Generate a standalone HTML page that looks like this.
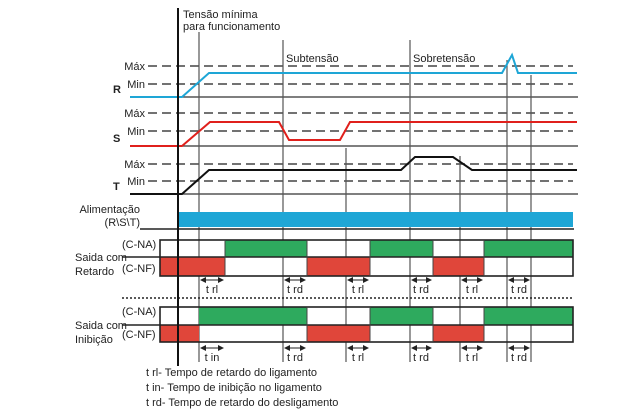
<!DOCTYPE html>
<html><head><meta charset="utf-8"><style>
html,body{margin:0;padding:0;background:#fff;width:640px;height:413px;overflow:hidden}
svg{display:block}
text{font-family:"Liberation Sans",Arial,sans-serif;font-size:11px;fill:#222}
</style></head><body>
<svg width="640" height="413" viewBox="0 0 640 413" xmlns="http://www.w3.org/2000/svg">
<defs>
<marker id="a" markerWidth="6" markerHeight="6" refX="5" refY="3" orient="auto-start-reverse"><path d="M0,0 L6,3 L0,6 z" fill="#222"/></marker>
</defs>
<!-- dashed levels -->
<g stroke="#444" stroke-width="1.6" stroke-dasharray="9,5">
<line x1="148" y1="66" x2="573" y2="66"/><line x1="148" y1="84" x2="573" y2="84"/>
<line x1="148" y1="113" x2="573" y2="113"/><line x1="148" y1="131" x2="573" y2="131"/>
<line x1="148" y1="164" x2="573" y2="164"/><line x1="148" y1="181" x2="573" y2="181"/>
</g>
<g stroke="#333" stroke-width="1.2">
<line x1="178" y1="97" x2="578" y2="97"/><line x1="178" y1="146" x2="578" y2="146"/><line x1="178" y1="194" x2="578" y2="194"/>
</g>
<!-- vertical guides -->
<g stroke="#555" stroke-width="1.2">
<line x1="199" y1="32" x2="199" y2="362"/>
<line x1="283" y1="40" x2="283" y2="362"/>
<line x1="346" y1="148" x2="346" y2="362"/>
<line x1="410" y1="40" x2="410" y2="362"/>
<line x1="460" y1="156" x2="460" y2="362"/>
<line x1="507" y1="60" x2="507" y2="362"/>
<line x1="531" y1="75" x2="531" y2="362"/>
</g>
<!-- signals -->
<polyline fill="none" stroke="#1ea6d6" stroke-width="2" points="130,97 182,97 209,73 502,73 512,55 518,73 577,73"/>
<polyline fill="none" stroke="#e0201c" stroke-width="2" points="130,146 182,146 210,122 279,122 289,140 340,140 350,122 577,122"/>
<polyline fill="none" stroke="#111" stroke-width="2" points="130,194 182,194 209,170 401,170 415,157 453,157 472,170 577,170"/>
<!-- Alimentação -->
<rect x="178" y="212" width="395" height="15" fill="#1ea6d6"/>
<line x1="140" y1="229" x2="574" y2="229" stroke="#222" stroke-width="1.5"/>
<!-- Retardo -->
<g stroke="none">
<rect x="160" y="257" width="65" height="19" fill="#e0463a"/>
<rect x="225" y="240" width="82" height="17" fill="#2eaa5e"/>
<rect x="307" y="257" width="63" height="19" fill="#e0463a"/>
<rect x="370" y="240" width="63" height="17" fill="#2eaa5e"/>
<rect x="433" y="257" width="51" height="19" fill="#e0463a"/>
<rect x="484" y="240" width="89" height="17" fill="#2eaa5e"/>
<rect x="160" y="325" width="39" height="17" fill="#e0463a"/>
<rect x="199" y="307" width="108" height="18" fill="#2eaa5e"/>
<rect x="307" y="325" width="63" height="17" fill="#e0463a"/>
<rect x="370" y="307" width="63" height="18" fill="#2eaa5e"/>
<rect x="433" y="325" width="51" height="17" fill="#e0463a"/>
<rect x="484" y="307" width="89" height="18" fill="#2eaa5e"/>
</g>
<g fill="none" stroke="#222" stroke-width="1.6">
<rect x="160" y="240" width="413" height="36"/>
<line x1="122" y1="257" x2="573" y2="257"/>
<rect x="160" y="307" width="413" height="35"/>
<line x1="122" y1="325" x2="573" y2="325"/>
</g>
<g stroke="#444" stroke-width="1">
<line x1="225" y1="240" x2="225" y2="276"/><line x1="307" y1="240" x2="307" y2="276"/><line x1="370" y1="240" x2="370" y2="276"/><line x1="433" y1="240" x2="433" y2="276"/><line x1="484" y1="240" x2="484" y2="276"/>
<line x1="307" y1="307" x2="307" y2="342"/><line x1="370" y1="307" x2="370" y2="342"/><line x1="433" y1="307" x2="433" y2="342"/><line x1="484" y1="307" x2="484" y2="342"/>
</g>
<line x1="122" y1="298" x2="573" y2="298" stroke="#222" stroke-width="1.5" stroke-dasharray="2,2"/>
<!-- main axis -->
<line x1="178" y1="8" x2="178" y2="366" stroke="#111" stroke-width="2"/>
<!-- arrows -->
<g stroke="#222" stroke-width="1" marker-start="url(#a)" marker-end="url(#a)">
<line x1="201" y1="280" x2="223" y2="280"/><line x1="285" y1="280" x2="305" y2="280"/><line x1="348" y1="280" x2="368" y2="280"/>
<line x1="412" y1="280" x2="431" y2="280"/><line x1="462" y1="280" x2="482" y2="280"/><line x1="509" y1="280" x2="529" y2="280"/>
<line x1="201" y1="348" x2="223" y2="348"/><line x1="285" y1="348" x2="305" y2="348"/><line x1="348" y1="348" x2="368" y2="348"/>
<line x1="412" y1="348" x2="431" y2="348"/><line x1="462" y1="348" x2="482" y2="348"/><line x1="509" y1="348" x2="529" y2="348"/>
</g>
<g text-anchor="middle" style="font-size:10.5px">
<text x="212" y="293">t rl</text><text x="295" y="293">t rd</text><text x="358" y="293">t rl</text><text x="421" y="293">t rd</text><text x="472" y="293">t rl</text><text x="519" y="293">t rd</text>
<text x="212" y="361">t in</text><text x="295" y="361">t rd</text><text x="358" y="361">t rl</text><text x="421" y="361">t rd</text><text x="472" y="361">t rl</text><text x="519" y="361">t rd</text>
</g>
<!-- labels -->
<g style="font-size:10.5px" text-anchor="end">
<text x="145" y="70">Máx</text><text x="145" y="88">Min</text>
<text x="145" y="117">Máx</text><text x="145" y="135">Min</text>
<text x="145" y="168">Máx</text><text x="145" y="185">Min</text>
<text x="140" y="213">Alimentação</text><text x="140" y="226">(R\S\T)</text>
</g>
<g style="font-size:12px;font-weight:bold">
<text x="113" y="93">R</text><text x="113" y="142">S</text><text x="113" y="190">T</text>
</g>
<g style="font-size:10.5px">
<text x="122" y="248">(C-NA)</text><text x="122" y="272">(C-NF)</text>
<text x="122" y="315">(C-NA)</text><text x="122" y="338">(C-NF)</text>
<text x="75" y="261">Saida com</text><text x="75" y="275">Retardo</text>
<text x="75" y="329">Saida com</text><text x="75" y="343">Inibição</text>
<text x="183" y="18">Tensão mínima</text><text x="183" y="30">para funcionamento</text>
<text x="286" y="62">Subtensão</text><text x="413" y="62">Sobretensão</text>
</g>
<g style="font-size:12px">
<text x="146" y="376">t rl- Tempo de retardo do ligamento</text>
<text x="146" y="391">t in- Tempo de inibição no ligamento</text>
<text x="146" y="406">t rd- Tempo de retardo do desligamento</text>
</g>
</svg>
</body></html>
